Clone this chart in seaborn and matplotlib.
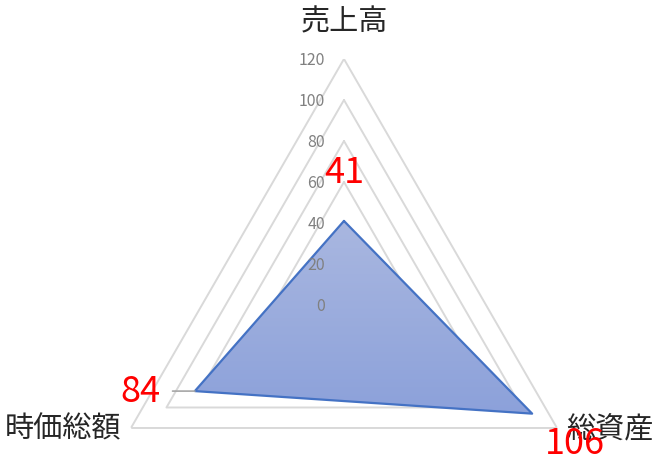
import numpy as np
import seaborn as sns
import matplotlib.pyplot as plt
from matplotlib.colors import LinearSegmentedColormap

# Radar chart data (売上高 / 総資産 / 時価総額)
categories = ['売上高', '総資産', '時価総額']
values = [41, 106, 84]
ring_ticks = [0, 20, 40, 60, 80, 100, 120]
r_max = 120

sns.set_theme(style='white')
plt.rcParams['font.family'] = ['Noto Sans CJK JP', 'DejaVu Sans']

fig = plt.figure(figsize=(6.55, 4.6), dpi=100)
ax = fig.add_axes([0.1496, -0.2, 0.7511, 1.0696], projection='polar')
ax.set_theta_offset(np.pi / 2)
ax.set_theta_direction(-1)
ax.set_ylim(0, r_max)
ax.grid(False)
ax.set_xticks([])
ax.set_yticks([])
ax.spines['polar'].set_visible(False)
ax.patch.set_alpha(0)

angles = np.linspace(0, 2 * np.pi, len(categories), endpoint=False)
closed = np.append(angles, angles[0])

# triangular grid rings
for r in ring_ticks:
    ax.plot(closed, [r] * len(closed), color='#d9d9d9', lw=1.4, zorder=1)

vals_closed = np.append(values, values[0])
poly = ax.fill(closed, vals_closed, color='#9aace0', zorder=2, lw=0)[0]

# vertical gradient inside the polygon
pts = ax.transAxes.inverted().transform(ax.transData.transform(np.c_[closed, vals_closed]))
ymin, ymax = pts[:, 1].min(), pts[:, 1].max()
grad_cmap = LinearSegmentedColormap.from_list('g', ['#8ca1da', '#a9b7e0'])
grad = np.linspace(0, 1, 256).reshape(-1, 1)
im = ax.imshow(grad, cmap=grad_cmap, origin='lower', aspect='auto',
               extent=[0, 1, ymin, ymax], transform=ax.transAxes, zorder=2.5)
im.set_clip_path(poly)
ax.set_xlim(0, 2 * np.pi)
ax.set_ylim(0, r_max)

ax.plot(closed, vals_closed, color='#4472c4', lw=1.6, zorder=3)

# radial tick labels
for r in ring_ticks:
    ax.annotate(str(r), xy=(0, r), xytext=(-19, -1), textcoords='offset pixels',
                ha='right', va='center', fontsize=11.5, color='#808080',
                annotation_clip=False, zorder=4)

# category labels
cat_offsets = [(0, 38), (53, -1), (-68, 0)]
for ang, name, off in zip(angles, categories, cat_offsets):
    ax.annotate(name, xy=(ang, r_max), xytext=off, textcoords='offset pixels',
                ha='center', va='center', fontsize=21, color='#262626',
                annotation_clip=False, zorder=5)

# value labels
val_offsets = [(0, 49), (43, -29), (-54, 0)]
for ang, v, off in zip(angles, values, val_offsets):
    arrow = None
    if v == 84:
        arrow = dict(arrowstyle='-', color='#a6a6a6', lw=1.2, shrinkA=6, shrinkB=0)
    ax.annotate(str(v), xy=(ang, v), xytext=off, textcoords='offset pixels',
                ha='center', va='center', fontsize=26, color='#ff0000',
                annotation_clip=False, arrowprops=arrow, zorder=6)

plt.savefig('out.png', dpi=100)
plt.close()
